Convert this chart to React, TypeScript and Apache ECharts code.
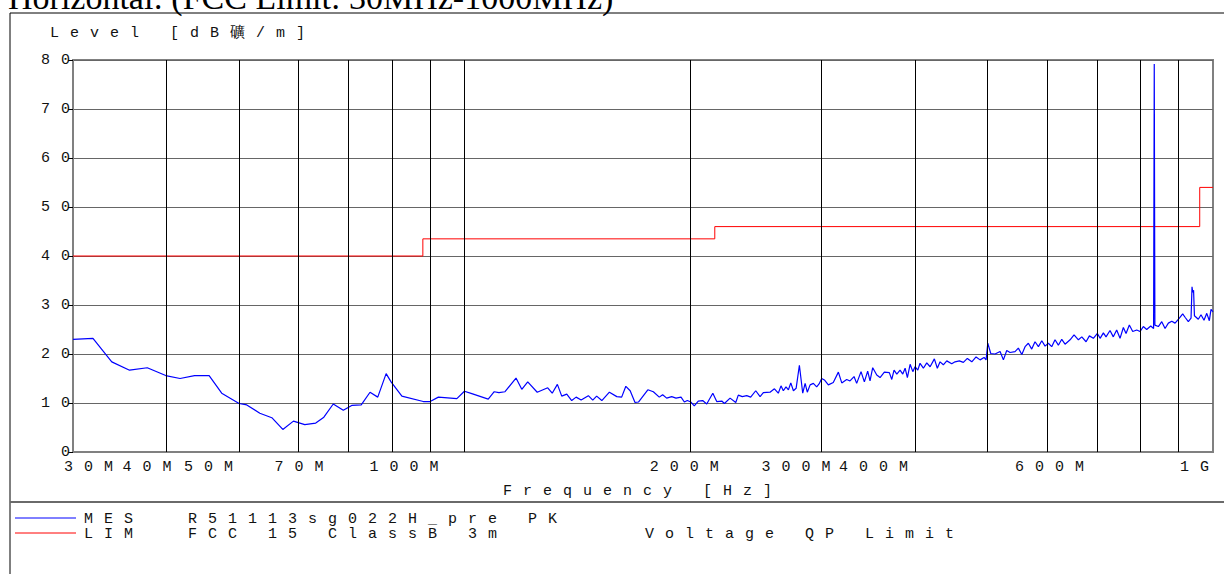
import React, { useEffect, useRef } from 'react';
import * as echarts from 'echarts';

// Measured trace (frequency in MHz, level in dBµV/m)
const MES_FREQ_MHZ = [30, 31.9, 33.8, 35.7, 37.7, 39.9, 41.7, 43.6, 45.6, 47.4, 50.0, 51.2, 53.3, 55.3, 57.2, 59.1, 61.2, 63.3, 64.9, 66.8, 68.9, 70.7, 72.8, 74.8, 76.6, 78.6, 79.8, 82.5, 88.1, 90.0, 92.3, 97.7, 100.0, 102.3, 107.6, 109.6, 111.2, 113.3, 117.2, 119.3, 121.5, 125.1, 129.2, 131.0, 133.1, 134.9, 137.0, 139.1, 141.0, 143.2, 146.4, 148.4, 150.2, 152.6, 156.2, 159.8, 162.2, 164.3, 166.5, 169.0, 170.8, 175.8, 178.8, 182.1, 184.0, 186.3, 189.2, 191.7, 194.7, 196.7, 198.5, 200.7, 202.8, 205.3, 208.1, 210.7, 214.7, 217.3, 220.7, 222.5, 226.4, 230.4, 232.2, 235.1, 238.3, 241.2, 245.0, 248.3, 250.8, 256.0, 259.5, 262.6, 264.8, 266.7, 268.9, 270.9, 272.9, 275.1, 277.4, 280.2, 283.1, 285.2, 287.1, 289.6, 292.5, 295.5, 297.7, 300.1, 302.6, 306.3, 311.0, 315.9, 319.2, 324.1, 327.4, 331.5, 334.2, 338.7, 342.2, 345.7, 348.2, 351.1, 355.5, 359.1, 363.9, 369.5, 372.3, 374.9, 378.1, 381.9, 385.1, 387.9, 390.6, 393.9, 397.2, 399.9, 403.3, 406.1, 410.3, 414.6, 418.9, 424.4, 428.3, 431.9, 436.3, 440.9, 447.7, 452.3, 458.3, 464.0, 469.7, 476.2, 482.5, 488.5, 494.5, 497.6, 500.2, 504.8, 511.5, 519.5, 524.8, 530.2, 535.6, 543.9, 549.5, 555.4, 561.0, 566.7, 572.6, 578.4, 584.5, 590.6, 596.6, 602.6, 608.9, 615.1, 621.5, 628.0, 634.4, 644.3, 652.2, 661.0, 667.9, 676.8, 683.7, 692.1, 700.8, 706.6, 713.8, 719.6, 728.5, 735.9, 743.6, 751.3, 759.0, 765.3, 773.1, 781.2, 790.9, 799.0, 807.1, 815.5, 825.7, 833.0, 834.7, 836.3, 845.3, 854.2, 862.9, 871.7, 880.9, 889.9, 901.7, 911.0, 917.6, 926.9, 934.7, 937.5, 939.5, 942.0, 944.5, 955.8, 963.8, 972.7, 981.0, 988.8, 993.9, 1000];
const MES_LEVEL = [23.0, 23.2, 18.4, 16.7, 17.2, 15.6, 15.0, 15.6, 15.6, 12.0, 9.9, 9.6, 7.9, 7.0, 4.6, 6.3, 5.6, 5.9, 7.1, 9.8, 8.5, 9.5, 9.6, 12.2, 11.2, 16.0, 14.3, 11.4, 10.3, 10.3, 11.2, 10.9, 12.4, 11.9, 10.8, 12.3, 12.1, 12.3, 15.1, 12.8, 14.3, 12.2, 13.1, 12.0, 13.8, 11.4, 11.8, 10.5, 11.2, 10.6, 11.5, 10.6, 11.4, 10.5, 12.2, 11.3, 11.2, 13.4, 12.5, 10.1, 10.2, 12.7, 12.3, 11.2, 11.7, 11.0, 11.3, 11.0, 11.2, 10.2, 10.5, 10.2, 9.4, 10.4, 10.5, 9.8, 12.0, 10.3, 10.4, 9.9, 11.0, 10.1, 11.6, 11.3, 11.5, 11.2, 12.5, 11.3, 12.1, 12.2, 12.9, 12.0, 13.5, 12.5, 13.3, 12.7, 14.1, 12.5, 13.0, 17.7, 12.0, 14.0, 12.2, 13.7, 14.0, 13.3, 13.9, 15.0, 14.7, 13.7, 14.2, 16.3, 14.1, 14.8, 14.5, 15.4, 14.0, 16.4, 14.3, 16.5, 14.5, 17.2, 15.7, 15.2, 16.3, 16.2, 14.8, 16.7, 15.9, 16.7, 15.9, 17.1, 15.2, 17.9, 16.4, 17.4, 16.7, 18.1, 17.1, 18.2, 17.4, 19.0, 17.1, 18.4, 17.8, 18.6, 18.0, 18.4, 18.6, 18.3, 19.1, 18.4, 19.4, 18.8, 19.3, 18.8, 22.2, 20.1, 20.0, 20.5, 18.8, 20.7, 20.3, 20.5, 21.2, 19.9, 21.5, 22.2, 21.0, 22.5, 21.5, 22.7, 21.6, 22.2, 21.5, 22.9, 21.8, 23.0, 22.0, 22.9, 23.9, 22.9, 23.5, 22.5, 23.7, 23.2, 24.2, 23.2, 24.3, 23.5, 24.8, 23.5, 24.9, 23.2, 25.4, 24.2, 25.9, 24.6, 24.9, 24.6, 25.6, 25.0, 25.7, 25.2, 79.2, 25.9, 25.6, 26.6, 25.2, 26.3, 26.7, 26.3, 27.3, 28.2, 27.5, 26.6, 27.3, 33.7, 32.6, 33.0, 27.8, 27.1, 28.0, 26.9, 28.3, 26.8, 29.1, 28.6];

// FCC 15 Class B 3m limit (MHz, dBµV/m)
const LIM_FREQ_MHZ = [30, 88, 88, 216, 216, 960, 960, 1000];
const LIM_LEVEL = [40, 40, 43.5, 43.5, 46, 46, 54, 54];

// Frequency grid lines and tick labels
const GRID_FREQ_MHZ = [40, 50, 60, 70, 80, 90, 100, 200, 300, 400, 500, 600, 700, 800, 900];
const TICK_FREQ_MHZ = [30, 40, 50, 70, 100, 200, 300, 400, 600, 1000];
const TICK_LABELS = ['30M', '40M', '50M', '70M', '100M', '200M', '300M', '400M', '600M', '1G'];
// layout only: where each tick label starts, relative to its grid line (px)
const TICK_LABEL_DX = [-9, -44, -55, -74, -95, -40, -60, -76, -32, -33];

const TITLE = 'Horizontal: (FCC Limit: 30MHz-1000MHz)';
const Y_NAME = 'Level [dB礦/m]';
const X_NAME = 'Frequency [Hz]';
const LEGEND_ROWS = [
  { key: 'MES', desc: 'R51113sg022H_pre PK', extra: '' },
  { key: 'LIM', desc: 'FCC 15 ClassB 3m', extra: 'Voltage QP Limit' },
];

const MONO = 'Liberation Mono';
const FONT_SIZE = 15;
const BLUE = '#0000ff';
const RED = '#ff0000';

export default function App() {
  const ref = useRef<HTMLDivElement>(null);

  useEffect(() => {
    if (!ref.current) return;
    const chart = echarts.init(ref.current, undefined, { renderer: 'svg' });

    const mesData = MES_FREQ_MHZ.map((f, i) => [f, MES_LEVEL[i]]);
    const limData = LIM_FREQ_MHZ.map((f, i) => [f, LIM_LEVEL[i]]);

    const textStyle = { fontFamily: MONO, fontSize: FONT_SIZE, color: '#111' };

    const labelIdx: Record<number, number> = {};
    TICK_FREQ_MHZ.forEach((f, i) => (labelIdx[f] = i));
    const allFreqs = Array.from(new Set([...TICK_FREQ_MHZ, ...GRID_FREQ_MHZ])).sort((a, b) => a - b);
    const markData = allFreqs.map((f) => {
      const isEdge = f === 30 || f === 1000;
      const i = labelIdx[f];
      return {
        xAxis: f,
        lineStyle: isEdge
          ? { color: 'rgba(0,0,0,0)', width: 1, type: 'solid' }
          : { color: '#000', width: 1, type: 'solid' },
        label:
          i !== undefined
            ? {
                show: true,
                formatter: TICK_LABELS[i],
                position: 'start',
                align: 'left',
                offset: [TICK_LABEL_DX[i], 0],
                ...textStyle,
              }
            : { show: false },
      };
    });

    const legendGraphics: any[] = [];
    LEGEND_ROWS.forEach((row, i) => {
      const y = 518 + i * 15;
      const color = i === 0 ? BLUE : RED;
      legendGraphics.push({
        type: 'line',
        shape: { x1: 15, y1: y, x2: 76, y2: y },
        style: { stroke: color, lineWidth: 1 },
      });
      const texts: [number, string][] = [
        [84, row.key],
        [188, row.desc],
        [645, row.extra],
      ];
      texts.forEach(([x, t]) => {
        if (!t) return;
        legendGraphics.push({
          type: 'text',
          x,
          y: y + 1,
          style: { text: t, fontFamily: MONO, fontSize: FONT_SIZE, fill: '#111', verticalAlign: 'middle' },
        });
      });
    });

    const option: any = {
      animation: false,
      backgroundColor: '#ffffff',
      grid: {
        left: 73,
        right: 11,
        top: 60,
        bottom: 122,
        show: true,
        borderColor: '#808080',
        borderWidth: 2,
        backgroundColor: 'transparent',
      },
      xAxis: {
        type: 'log',
        logBase: 10,
        min: 30,
        max: 1000,
        axisLine: { show: true, lineStyle: { color: '#808080', width: 2 } },
        axisTick: { show: false },
        axisLabel: { show: false },
        splitLine: { show: false },
        minorSplitLine: { show: false },
        name: X_NAME,
        nameLocation: 'middle',
        nameGap: 32,
        nameTextStyle: textStyle,
      },
      yAxis: {
        type: 'value',
        min: 0,
        max: 80,
        interval: 10,
        axisLine: { show: true, lineStyle: { color: '#808080', width: 2 } },
        axisTick: { show: true, length: 5, lineStyle: { color: '#000' } },
        axisLabel: { ...textStyle, margin: -8 },
        splitLine: { show: true, lineStyle: { color: '#666', width: 1 } },
      },
      graphic: [
        {
          type: 'text',
          x: 8,
          y: 14,
          style: {
            text: TITLE,
            fontFamily: 'Liberation Serif',
            fontSize: 34,
            fill: '#000',
            verticalAlign: 'bottom',
          },
        },
        {
          type: 'rect',
          shape: { x: 10, y: 13, width: 1240, height: 600 },
          style: { fill: 'none', stroke: '#000', lineWidth: 1 },
        },
        {
          type: 'line',
          shape: { x1: 10, y1: 502, x2: 1224, y2: 502 },
          style: { stroke: '#6a6a6a', lineWidth: 2 },
        },
        {
          type: 'text',
          x: 50,
          y: 33,
          style: { text: Y_NAME, fontFamily: MONO, fontSize: FONT_SIZE, fill: '#111', verticalAlign: 'middle' },
        },
        ...legendGraphics,
      ],
      series: [
        {
          name: 'grid',
          type: 'line',
          data: [],
          silent: true,
          z: 1,
          markLine: {
            silent: true,
            symbol: ['none', 'none'],
            animation: false,
            label: { ...textStyle, distance: 8 },
            lineStyle: { color: '#000', width: 1, type: 'solid' },
            emphasis: { disabled: true },
            data: markData,
          },
        },
        {
          name: 'LIM',
          type: 'line',
          data: limData,
          symbol: 'none',
          z: 3,
          lineStyle: { color: RED, width: 1 },
          itemStyle: { color: RED },
        },
        {
          name: 'MES',
          type: 'line',
          data: mesData,
          symbol: 'none',
          z: 4,
          lineStyle: { color: BLUE, width: 1.2 },
          itemStyle: { color: BLUE },
        },
      ],
    };

    chart.setOption(option);
    return () => chart.dispose();
  }, []);

  return (
    <>
      <style>{`#chart svg text{letter-spacing:11px}#chart svg text[style*="Serif"]{letter-spacing:0}`}</style>
      <div
        id="chart"
        ref={ref}
        style={{ position: 'fixed', left: 0, top: 0, width: 1224, height: 574, background: '#fff' }}
      />
    </>
  );
}
